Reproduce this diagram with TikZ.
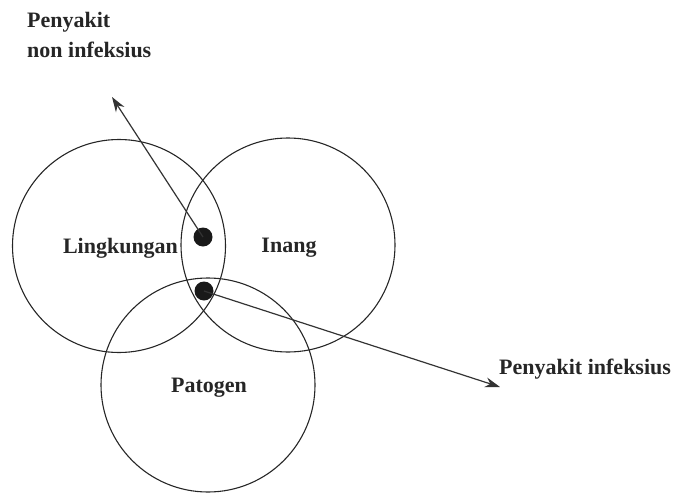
\documentclass[tikz,border=0pt]{standalone}
\usepackage{fontspec}
\setmainfont{Liberation Serif}
\usetikzlibrary{arrows.meta}
\begin{document}
\begin{tikzpicture}[x=1pt,y=-1pt,
  ring/.style={draw=black!85,line width=1.1pt,circle,inner sep=0pt},
  lbl/.style={font=\fontsize{22}{30}\selectfont\bfseries,text=black!85,inner sep=0pt},
  dot/.style={circle,fill=black!90,inner sep=0pt,minimum size=19pt},
  arr/.style={draw=black!80,line width=1.2pt,-{Stealth[length=15pt,width=10pt]}}]
\useasboundingbox (0,0) rectangle (678,493);
\node[ring,minimum size=213pt] (ling) at (119,246) {};
\node[ring,minimum size=214pt] (inang) at (288,245) {};
\node[ring,minimum size=214pt] (pato) at (208,385) {};
\node[lbl] (tl) at (120.5,248) {Lingkungan};
\node[lbl] (ti) at (289,248) {Inang};
\node[lbl] (tp) at (209,388) {Patogen};
\node[dot] (d1) at (203,237) {};
\node[dot] (d2) at (204,291) {};
\coordinate (t1) at (112,97);
\coordinate (t2) at (500,387);
\draw[arr] (d1.center) -- (t1);
\draw[arr] (d2.center) -- (t2);
\node[lbl,anchor=west,align=left] (pn) at (27,35) {Penyakit\\non infeksius};
\node[lbl,anchor=west] (pi) at (499,369) {Penyakit infeksius};
\end{tikzpicture}
\end{document}
